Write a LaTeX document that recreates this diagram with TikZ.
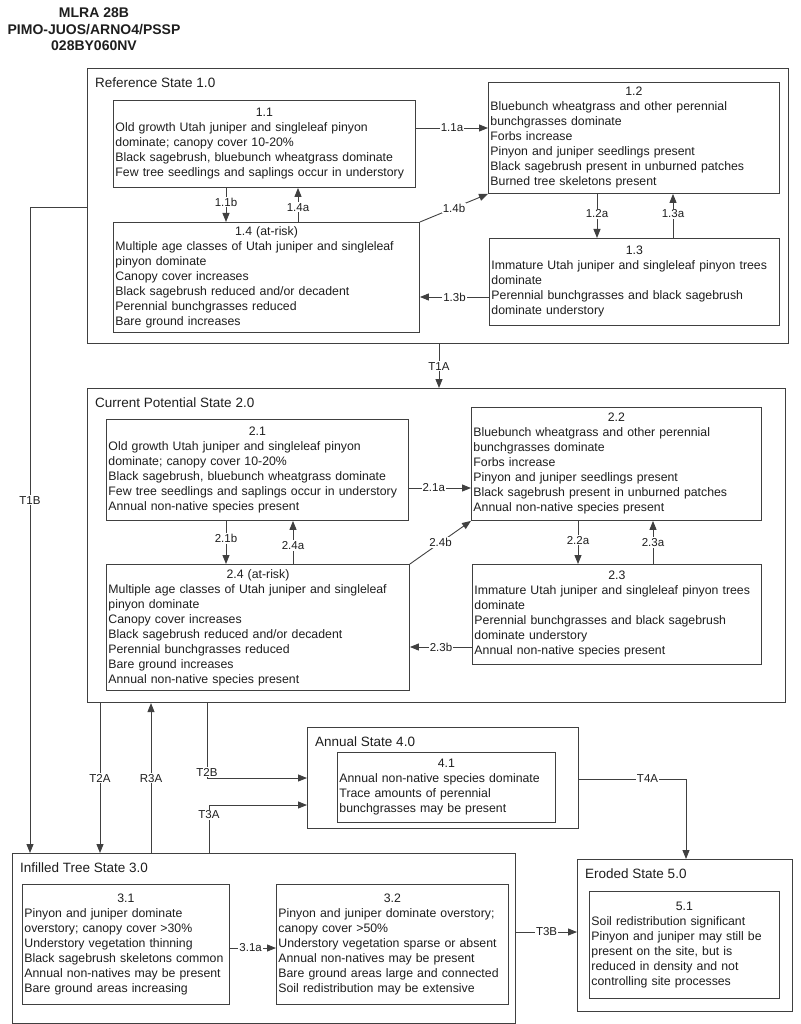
\documentclass[tikz,border=0pt]{standalone}
\usepackage{fontspec}
\setmainfont{Liberation Sans}
\usetikzlibrary{arrows.meta}
\definecolor{edgegray}{RGB}{64,64,64}
\definecolor{inkgray}{RGB}{30,30,30}

\begin{document}
\begin{tikzpicture}[x=1pt, y=-1pt,
		box/.style={draw=edgegray, line width=0.9pt, fill=white, anchor=north west, align=left, inner sep=2pt, text=inkgray, font=\fontsize{12.3}{15}\selectfont},
		statebox/.style={draw=edgegray, line width=1.1pt, anchor=north west, inner sep=0pt},
		statename/.style={anchor=north west, inner sep=0pt, xshift=8pt, yshift=-10pt, text=inkgray, font=\fontsize{13.5}{16}\selectfont},
		arr/.style={draw=edgegray, line width=0.9pt, -{Triangle[length=9pt,width=7pt]}},
		tlabel/.style={fill=white, inner sep=1pt, text=inkgray, font=\fontsize{11.5}{13}\selectfont}]

		\useasboundingbox (0,0) rectangle (800,1024);

		\node [align=center, text=inkgray, font=\bfseries\fontsize{14}{16.5}\selectfont] (title) at (94,29.5) {MLRA 28B\\PIMO-JUOS/ARNO4/PSSP\\028BY060NV};

		\node [statebox, minimum width=701pt, minimum height=275pt] (ref) at (87,68) {};
		\node [statename] (refname) at (ref.north west) {Reference State 1.0};
		\node [statebox, minimum width=698pt, minimum height=314pt] (cur) at (87,388) {};
		\node [statename] (curname) at (cur.north west) {Current Potential State 2.0};
		\node [statebox, minimum width=503pt, minimum height=170pt] (inf) at (12,853) {};
		\node [statename] (infname) at (inf.north west) {Infilled Tree State 3.0};
		\node [statebox, minimum width=271pt, minimum height=101pt] (ann) at (307,727) {};
		\node [statename] (annname) at (ann.north west) {Annual State 4.0};
		\node [statebox, minimum width=215pt, minimum height=152pt] (ero) at (577,859) {};
		\node [statename] (eroname) at (ero.north west) {Eroded State 5.0};

		\node [box, text width=298pt, minimum height=87pt] (n11) at (113,100) {\makebox[\linewidth]{1.1}\\Old growth Utah juniper and singleleaf pinyon\\dominate; canopy cover 10-20\%\\Black sagebrush, bluebunch wheatgrass dominate\\Few tree seedlings and saplings occur in understory};
		\node [box, text width=287pt, minimum height=111pt] (n12) at (488,82) {\makebox[\linewidth]{1.2}\\Bluebunch wheatgrass and other perennial\\bunchgrasses dominate\\Forbs increase\\Pinyon and juniper seedlings present\\Black sagebrush present in unburned patches\\Burned tree skeletons present};
		\node [box, text width=286pt, minimum height=87pt] (n13) at (489,238) {\makebox[\linewidth]{1.3}\\Immature Utah juniper and singleleaf pinyon trees\\dominate\\Perennial bunchgrasses and black sagebrush\\dominate understory};
		\node [box, text width=302pt, minimum height=110pt] (n14) at (113,222) {\makebox[\linewidth]{1.4 (at-risk)}\\Multiple age classes of Utah juniper and singleleaf\\pinyon dominate\\Canopy cover increases\\Black sagebrush reduced and/or decadent\\Perennial bunchgrasses reduced\\Bare ground increases};

		\node [box, text width=298pt, minimum height=101pt] (n21) at (106,419) {\makebox[\linewidth]{2.1}\\Old growth Utah juniper and singleleaf pinyon\\dominate; canopy cover 10-20\%\\Black sagebrush, bluebunch wheatgrass dominate\\Few tree seedlings and saplings occur in understory\\Annual non-native species present};
		\node [box, text width=286pt, minimum height=113pt] (n22) at (471,407) {\makebox[\linewidth]{2.2}\\Bluebunch wheatgrass and other perennial\\bunchgrasses dominate\\Forbs increase\\Pinyon and juniper seedlings present\\Black sagebrush present in unburned patches\\Annual non-native species present};
		\node [box, text width=285pt, minimum height=100pt] (n23) at (472,564) {\makebox[\linewidth]{2.3}\\Immature Utah juniper and singleleaf pinyon trees\\dominate\\Perennial bunchgrasses and black sagebrush\\dominate understory\\Annual non-native species present};
		\node [box, text width=299pt, minimum height=126pt] (n24) at (106,564) {\makebox[\linewidth]{2.4 (at-risk)}\\Multiple age classes of Utah juniper and singleleaf\\pinyon dominate\\Canopy cover increases\\Black sagebrush reduced and/or decadent\\Perennial bunchgrasses reduced\\Bare ground increases\\Annual non-native species present};

		\node [box, text width=203pt, minimum height=120pt] (n31) at (22,884) {\makebox[\linewidth]{3.1}\\Pinyon and juniper dominate\\overstory; canopy cover >30\%\\Understory vegetation thinning\\Black sagebrush skeletons common\\Annual non-natives may be present\\Bare ground areas increasing};
		\node [box, text width=228pt, minimum height=120pt] (n32) at (276,884) {\makebox[\linewidth]{3.2}\\Pinyon and juniper dominate overstory;\\canopy cover >50\%\\Understory vegetation sparse or absent\\Annual non-natives may be present\\Bare ground areas large and connected\\Soil redistribution may be extensive};
		\node [box, text width=214pt, minimum height=70pt] (n41) at (337,752) {\makebox[\linewidth]{4.1}\\Annual non-native species dominate\\Trace amounts of perennial\\bunchgrasses may be present};
		\node [box, text width=186pt, minimum height=107pt] (n51) at (589,891) {\makebox[\linewidth]{5.1}\\Soil redistribution significant\\Pinyon and juniper may still be\\present on the site, but is\\reduced in density and not\\controlling site processes};

		\draw [arr] (n11.east |- 0,128) -- node [tlabel] (t11a) {1.1a} (n12.west |- 0,128);
		\draw [arr] (n11.south -| 226,0) -- node [tlabel, pos=0.42] (t11b) {1.1b} (n14.north -| 226,0);
		\draw [arr] (n14.north -| 298,0) -- node [tlabel, pos=0.43] (t14a) {1.4a} (n11.south -| 298,0);
		\draw [arr] (n14.north east) -- node [tlabel] (t14b) {1.4b} (n12.south west);
		\draw [arr] (n12.south -| 597,0) -- node [tlabel, pos=0.45] (t12a) {1.2a} (n13.north -| 597,0);
		\draw [arr] (n13.north -| 673,0) -- node [tlabel, pos=0.55] (t13a) {1.3a} (n12.south -| 673,0);
		\draw [arr] (n13.west |- 0,297) -- node [tlabel] (t13b) {1.3b} (n14.east |- 0,297);

		\draw [arr] (n21.east |- 0,488) -- node [tlabel, pos=0.4] (t21a) {2.1a} (n22.west |- 0,488);
		\draw [arr] (n21.south -| 226,0) -- node [tlabel, pos=0.41] (t21b) {2.1b} (n24.north -| 226,0);
		\draw [arr] (n24.north -| 293,0) -- node [tlabel, pos=0.43] (t24a) {2.4a} (n21.south -| 293,0);
		\draw [arr] (n24.north east) -- node [tlabel] (t24b) {2.4b} (n22.south west);
		\draw [arr] (n22.south -| 578,0) -- node [tlabel, pos=0.45] (t22a) {2.2a} (n23.north -| 578,0);
		\draw [arr] (n23.north -| 653,0) -- node [tlabel, pos=0.5] (t23a) {2.3a} (n22.south -| 653,0);
		\draw [arr] (n23.west |- 0,647) -- node [tlabel] (t23b) {2.3b} (n24.east |- 0,647);

		\draw [arr] (n31.east |- 0,948) -- node [tlabel, pos=0.45] (t31a) {3.1a} (n32.west |- 0,948);

		\draw [arr] (ref.south -| 439,0) -- node [tlabel] (tT1A) {T1A} (cur.north -| 439,0);
		\draw [arr] (ref.west |- 0,207) -| node [tlabel, pos=0.727] (tT1B) {T1B} (inf.north -| 30,0);
		\draw [arr] (cur.south -| 100,0) -- node [tlabel] (tT2A) {T2A} (inf.north -| 100,0);
		\draw [arr] (inf.north -| 151,0) -- node [tlabel] (tR3A) {R3A} (cur.south -| 151,0);
		\draw [arr] (cur.south -| 207,0) |- node [tlabel, pos=0.5, yshift=6pt] (tT2B) {T2B} (ann.west |- 0,778);
		\draw [arr] (inf.north -| 209,0) |- node [tlabel, pos=0.4] (tT3A) {T3A} (ann.west |- 0,805);
		\draw [arr] (ann.east |- 0,779) -| node [tlabel, pos=0.32] (tT4A) {T4A} (ero.north -| 686,0);
		\draw [arr] (inf.east |- 0,932) -- node [tlabel] (tT3B) {T3B} (ero.west |- 0,932);

\end{tikzpicture}
\end{document}
